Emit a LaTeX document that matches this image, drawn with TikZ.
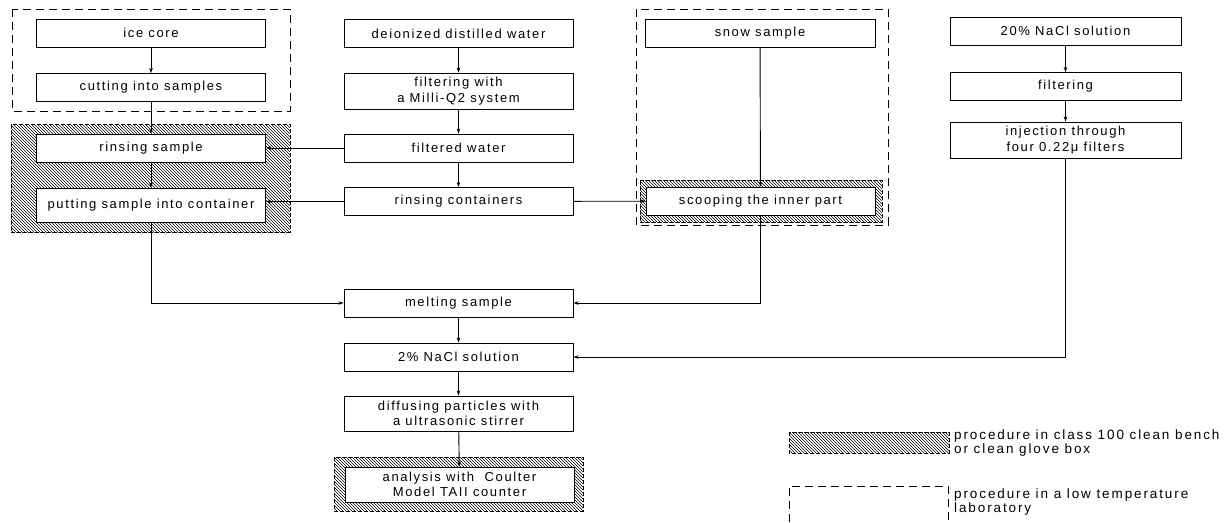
\documentclass[tikz,border=0pt]{standalone}
\usepackage{fontspec}
\setmainfont{Liberation Sans}[LetterSpace=12.5]
\usetikzlibrary{arrows.meta,patterns}

\begin{document}
\begin{tikzpicture}[x=1pt,y=-1pt,>={Stealth[length=5pt,width=3.5pt]},
  stepbox/.style={draw,line width=0.9pt,fill=white,minimum width=229pt,minimum height=28pt,inner sep=2pt,align=center,font=\fontsize{13}{15.5}\selectfont},
  cleanarea/.style={draw,line width=0.8pt,dash pattern=on 4pt off 2pt,pattern=north west lines},
  coldarea/.style={draw,line width=0.9pt,dash pattern=on 8pt off 5pt},
  legendtext/.style={anchor=west,align=left,inner sep=0pt,font=\fontsize{13.5}{14}\selectfont\addfontfeatures{LetterSpace=14}},
  link/.style={->,line width=0.9pt}]
  \fill[white] (0,0) rectangle (1226,522);
  \useasboundingbox (0,0) rectangle (1226,522);

  % areas
  \draw[coldarea] (12,9) rectangle (290,111);
  \draw[coldarea] (636,9) rectangle (888,225);
  \draw[cleanarea] (11,124) rectangle (290,232);
  \draw[cleanarea] (640,180) rectangle (882,222);
  \draw[cleanarea] (334,457) rectangle (583,511);

  % ice core column
  \node[stepbox] (ice) at (151,33) {ice core};
  \node[stepbox] (cut) at (151,87.5) {cutting into samples};
  \node[stepbox] (rinse) at (151,148) {rinsing sample};
  \node[stepbox,minimum height=34pt] (put) at (151,205) {putting sample into container};

  % water column
  \node[stepbox] (water) at (458.5,33.5) {deionized distilled water};
  \node[stepbox,minimum height=36pt] (milli) at (458.5,91) {filtering with\\a Milli-Q2 system};
  \node[stepbox] (filtered) at (458.5,148) {filtered water};
  \node[stepbox] (rinsec) at (458.5,201.5) {rinsing containers};
  \node[stepbox] (melt) at (458.5,303) {melting sample};
  \node[stepbox] (dilute) at (458.5,357) {2\% NaCl solution};
  \node[stepbox,minimum height=35pt] (diffuse) at (458.5,413.5) {diffusing particles with\\a ultrasonic stirrer};
  \node[stepbox,minimum height=35pt] (analysis) at (459.5,484.5) {analysis with~ Coulter\\Model TAII counter};

  % snow column
  \node[stepbox,minimum width=230pt] (snow) at (760,33) {snow sample};
  \node[stepbox,minimum width=229pt] (scoop) at (760.5,201) {scooping the inner part};

  % NaCl column
  \node[stepbox,minimum width=231pt] (nacl) at (1065.5,31) {20\% NaCl solution};
  \node[stepbox,minimum width=231pt] (filt) at (1065.5,86.5) {filtering};
  \node[stepbox,minimum width=231pt,minimum height=36pt] (inject) at (1065.5,140) {injection through\\four 0.22μ filters};

  % connectors
  \draw[link] (ice) -- (cut);
  \draw[link] (cut) -- (rinse);
  \draw[link] (rinse) -- (put);
  \draw[link] (put.south) |- (melt.west);
  \draw[link] (water) -- (milli);
  \draw[link] (milli) -- (filtered);
  \draw[link] (filtered) -- (rinsec);
  \draw[link] (filtered) -- (rinse);
  \draw[link] (rinsec.west) -- (put.east |- rinsec.west);
  \draw[link] (rinsec) -- (scoop);
  \draw[link] (snow) -- (scoop);
  \draw[link] (scoop.south) |- (melt.east);
  \draw[link] (melt) -- (dilute);
  \draw[link] (dilute) -- (diffuse);
  \draw[link] (diffuse) -- (analysis);
  \draw[link] (nacl) -- (filt);
  \draw[link] (filt) -- (inject);
  \draw[link] (inject.south) |- (dilute.east);

  % legend
  \draw[cleanarea] (789,432) rectangle (949,453);
  \node[legendtext] (cleannote) at (954,443) {procedure in class 100 clean bench\\or clean glove box};
  \draw[coldarea] (789,522) -- (789,486) -- (948,486) -- (948,522);
  \node[legendtext] (coldnote) at (954,502) {procedure in a low temperature\\laboratory};
\end{tikzpicture}
\end{document}
